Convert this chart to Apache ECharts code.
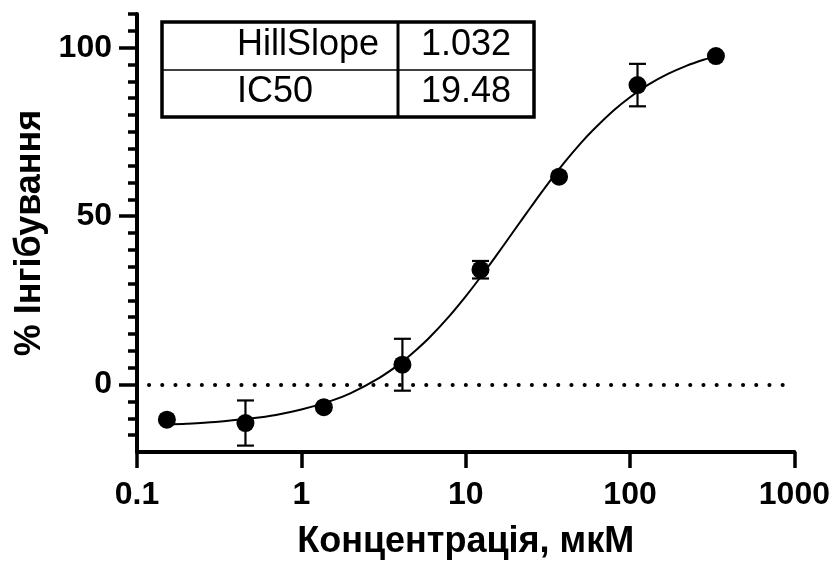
<!DOCTYPE html>
<html>
<head>
<meta charset="utf-8">
<script src="https://cdn.jsdelivr.net/npm/echarts@6/dist/echarts.min.js"></script>
<style>
html,body{margin:0;padding:0;background:#fff;}
#chart{width:833px;height:565px;}
</style>
</head>
<body>
<div id="chart"></div>
<script>
// ---- Data ----
const concentrations = [0.152, 0.457, 1.37, 4.12, 12.3, 37.0, 111, 333];
const inhibitionMean = [-10.4, -11.4, -6.7, 5.9, 34.1, 61.7, 88.9, 97.5];
const inhibitionSD   = [0, 6.7, 0, 7.7, 2.6, 0, 6.3, 0];

// fitted curve
const curveX = [0.152, 0.2, 0.3, 0.5, 0.7, 1, 1.5, 2, 3, 4, 5, 6, 8, 10, 12, 15, 20, 25, 30, 40, 50, 60, 80, 100, 130, 170, 220, 280, 333];
const curveY = [-11.8, -11.6, -11.1, -10.0, -9.0, -7.4, -4.9, -2.5, 2.1, 6.3, 10.3, 13.9, 20.5, 26.2, 31.2, 37.6, 46.2, 52.8, 58.1, 66.0, 71.6, 75.7, 81.5, 85.3, 89.1, 92.2, 94.6, 96.4, 97.5];

// tick labels / ticks
const xTickLabels = ['0.1', '1', '10', '100', '1000'];
const yMajorTicks = [0, 50, 100];
const yMinorTicks = [-15, -10, -5, 5, 10, 15, 20, 25, 30, 35, 40, 45, 55, 60, 65, 70, 75, 80, 85, 90, 95, 105, 110];

// results table
const tableParams = ['HillSlope', 'IC50'];
const tableValues = ['1.032', '19.48'];

const xTitle = 'Концентрація, мкМ';
const yTitle = '% Інгібування';

// ---- Chart ----
const FONT = '"Liberation Sans", Arial, Helvetica, sans-serif';
const chart = echarts.init(document.getElementById('chart'), null, {renderer: 'canvas'});

const points = concentrations.map((c, i) => [c, inhibitionMean[i]]);
const errData = concentrations.map((c, i) => [c, inhibitionMean[i], inhibitionSD[i]]);
const curve = curveX.map((x, i) => [x, curveY[i]]);

const tickLabelStyle = {fontFamily: FONT, fontWeight: 'bold', fontSize: 32, color: '#000'};
const titleStyle = {fontFamily: FONT, fontWeight: 'bold', fontSize: 36, color: '#000'};

function tableText(txt, x, y) {
  return {type: 'text', x: x, y: y, z: 12,
    style: {text: txt, font: '36px ' + FONT, fill: '#000', align: 'left', verticalAlign: 'middle'}};
}

const option = {
  animation: false,
  backgroundColor: '#fff',
  grid: {left: 137, right: 38, top: 14, bottom: 112, containLabel: false},
  xAxis: {
    type: 'log', logBase: 10, min: 0.1, max: 1000,
    name: xTitle, nameLocation: 'middle', nameGap: 72,
    nameTextStyle: titleStyle,
    axisLine: {show: true, onZero: false, lineStyle: {color: '#000', width: 4}},
    axisTick: {show: true, inside: false, length: 16, lineStyle: {color: '#000', width: 3.5}},
    minorTick: {show: false},
    splitLine: {show: false},
    axisLabel: Object.assign({margin: 27, formatter: function (v) {
      const idx = Math.round(Math.log10(v)) + 1;
      return xTickLabels[idx] !== undefined ? xTickLabels[idx] : String(v);
    }}, tickLabelStyle)
  },
  yAxis: [{
    type: 'value', min: -20, max: 110, interval: 10,
    name: yTitle, nameLocation: 'middle', nameGap: 83, nameRotate: 90,
    nameTextStyle: titleStyle,
    axisLine: {show: true, lineStyle: {color: '#000', width: 4}},
    axisTick: {show: true, inside: false, length: 18, customValues: yMajorTicks, lineStyle: {color: '#000', width: 3.5}},
    splitLine: {show: false},
    axisLabel: Object.assign({margin: 25, customValues: yMajorTicks}, tickLabelStyle)
  }, {
    type: 'value', min: -20, max: 110, interval: 10, position: 'left',
    axisLine: {show: false},
    axisTick: {show: true, inside: false, length: 9, customValues: yMinorTicks, lineStyle: {color: '#000', width: 3.5}},
    splitLine: {show: false},
    axisLabel: {show: false}
  }],
  series: [
    {
      type: 'line', data: curve, smooth: 0.3, showSymbol: false, symbol: 'none',
      lineStyle: {color: '#000', width: 2}, z: 2,
      markLine: {
        silent: true, symbol: 'none', label: {show: false},
        lineStyle: {color: '#000', width: 4, type: [0.1, 13.1], cap: 'round', dashOffset: 1.2},
        data: [{yAxis: 0}]
      }
    },
    {
      type: 'custom', data: errData, z: 3,
      renderItem: function (params, api) {
        const x = api.value(0), m = api.value(1), sd = api.value(2);
        if (!sd) return {type: 'group', children: []};
        const top = api.coord([x, m + sd]);
        const bot = api.coord([x, m - sd]);
        const half = 8.5;
        const st = {stroke: '#000', lineWidth: 2.2};
        return {type: 'group', children: [
          {type: 'line', shape: {x1: top[0], y1: top[1], x2: bot[0], y2: bot[1]}, style: st},
          {type: 'line', shape: {x1: top[0] - half, y1: top[1], x2: top[0] + half, y2: top[1]}, style: st},
          {type: 'line', shape: {x1: bot[0] - half, y1: bot[1], x2: bot[0] + half, y2: bot[1]}, style: st}
        ]};
      }
    },
    {
      type: 'scatter', data: points, symbol: 'circle', symbolSize: 18,
      itemStyle: {color: '#000', opacity: 1}, z: 4
    }
  ],
  graphic: [
    {type: 'rect', shape: {x: 162, y: 22, width: 372, height: 95}, style: {fill: '#fff', stroke: '#000', lineWidth: 3.5}, z: 10},
    {type: 'line', shape: {x1: 398, y1: 22, x2: 398, y2: 117}, style: {stroke: '#000', lineWidth: 3}, z: 11},
    {type: 'line', shape: {x1: 162, y1: 70, x2: 534, y2: 70}, style: {stroke: '#000', lineWidth: 1.5}, z: 11},
    tableText(tableParams[0], 237, 45),
    tableText(tableParams[1], 237, 92),
    tableText(tableValues[0], 421, 45),
    tableText(tableValues[1], 421, 92)
  ]
};
chart.setOption(option);
</script>
</body>
</html>
